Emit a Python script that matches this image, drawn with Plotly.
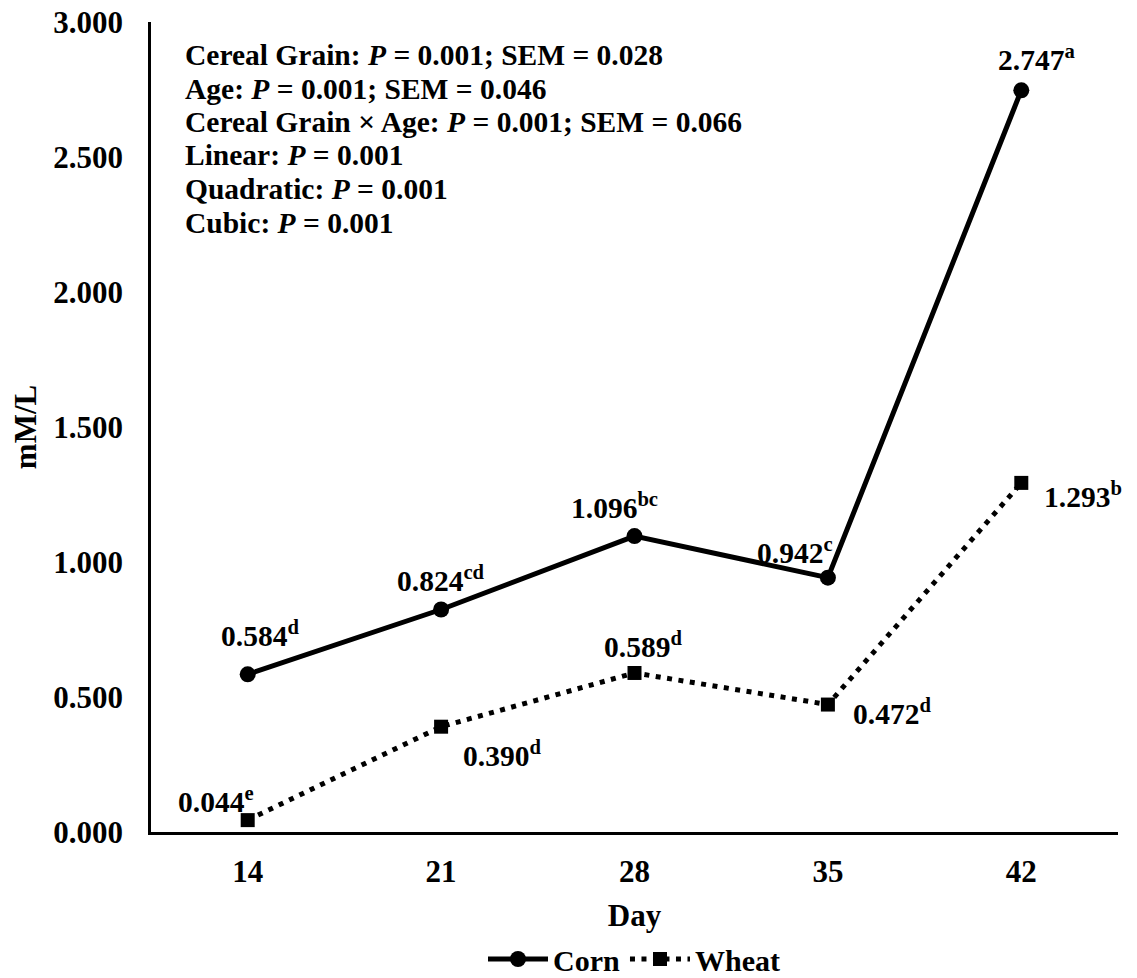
import plotly.graph_objects as go

days = ["14", "21", "28", "35", "42"]
corn = [0.584, 0.824, 1.096, 0.942, 2.747]
wheat = [0.044, 0.390, 0.589, 0.472, 1.293]
corn_letters = ["d", "cd", "bc", "c", "a"]
wheat_letters = ["e", "d", "d", "d", "b"]
stats_lines = [
    "Cereal Grain: <i>P</i> = 0.001; SEM = 0.028",
    "Age: <i>P</i> = 0.001; SEM = 0.046",
    "Cereal Grain × Age: <i>P</i> = 0.001; SEM = 0.066",
    "Linear: <i>P</i> = 0.001",
    "Quadratic: <i>P</i> = 0.001",
    "Cubic: <i>P</i> = 0.001",
]
yticks = [0, 0.5, 1.0, 1.5, 2.0, 2.5, 3.0]

# label offsets in pixels (styling): (dx right, dy down)
corn_shift = [(12, -40), (0, -31), (-20, -30), (-33, -27), (15, -32)]
wheat_shift = [(-32, -20), (61, 27), (8, -28), (64, 7), (62, 12)]

FONT = "Liberation Serif"
OFF = 8  # page body margin
W, H = 1137 - OFF, 978 - OFF
L, T = 151 - OFF, 22 - OFF
PW, PH = 967, 810
R, B = W - L - PW, H - T - PH

fig = go.Figure()
fig.add_trace(go.Scatter(
    x=days, y=corn, name="<b>Corn</b>", mode="lines+markers",
    line=dict(color="black", width=5),
    marker=dict(symbol="circle", size=16, color="black"),
    cliponaxis=False,
))
fig.add_trace(go.Scatter(
    x=days, y=wheat, name="<b>Wheat</b>", mode="lines+markers",
    line=dict(color="black", width=5, dash="5px,6.5px"),
    marker=dict(symbol="square", size=14, color="black"),
    cliponaxis=False,
))

for ys, letters, shifts in [(corn, corn_letters, corn_shift),
                            (wheat, wheat_letters, wheat_shift)]:
    for i, (yv, s, (dx, dy)) in enumerate(zip(ys, letters, shifts)):
        fig.add_annotation(
            x=i, y=yv, xref="x", yref="y", showarrow=False,
            text=f"<b>{yv:.3f}<sup>{s}</sup></b>",
            xshift=dx, yshift=-dy, xanchor="center", yanchor="middle",
            font=dict(family=FONT, size=29.5, color="black"),
        )

for i, line in enumerate(stats_lines):
    cy = 55 + 33.5 * i - OFF
    fig.add_annotation(
        xref="paper", yref="paper", x=(183 - OFF - L) / PW, y=1 - (cy - T) / PH,
        xanchor="left", yanchor="middle",
        text=f"<b>{line}</b>", showarrow=False,
        font=dict(family=FONT, size=29.5, color="black"), align="left",
    )

fig.update_layout(
    width=W, height=H,
    margin=dict(l=L, r=R, t=T, b=B, autoexpand=False),
    paper_bgcolor="white", plot_bgcolor="white",
    font=dict(family=FONT, color="black", size=30),
    showlegend=True,
    legend=dict(orientation="h", x=(634 - OFF) / W, xref="container", xanchor="center",
                y=19 / H, yref="container", yanchor="middle",
                font=dict(family=FONT, size=30, color="black"),
                itemwidth=60, tracegroupgap=0, bgcolor="rgba(0,0,0,0)"),
)
fig.update_xaxes(
    type="category", range=[-0.5, 4.5], showline=True, linecolor="black", linewidth=2.5,
    showgrid=False, ticks="outside", ticklen=10, tickcolor="rgba(0,0,0,0)",
    tickfont=dict(family=FONT, size=31, color="black"),
    ticktext=[f"<b>{d}</b>" for d in days], tickvals=days, ticklabeloverflow="allow",
    title=dict(text="<b>Day</b>", font=dict(family=FONT, size=31, color="black"), standoff=18),
    zeroline=False, automargin=False,
)
fig.update_yaxes(
    range=[0, 3.0], showline=True, linecolor="black", linewidth=2.5, showgrid=False,
    zeroline=False, ticks="outside", ticklen=19, tickcolor="rgba(0,0,0,0)", tickvals=yticks,
    ticktext=[f"<b>{v:.3f}</b>" for v in yticks], ticklabeloverflow="allow",
    tickfont=dict(family=FONT, size=31, color="black"),
    title=dict(text="<b>mM/L</b>", font=dict(family=FONT, size=31, color="black"), standoff=8),
    automargin=False,
)
fig.write_html("out.html")
